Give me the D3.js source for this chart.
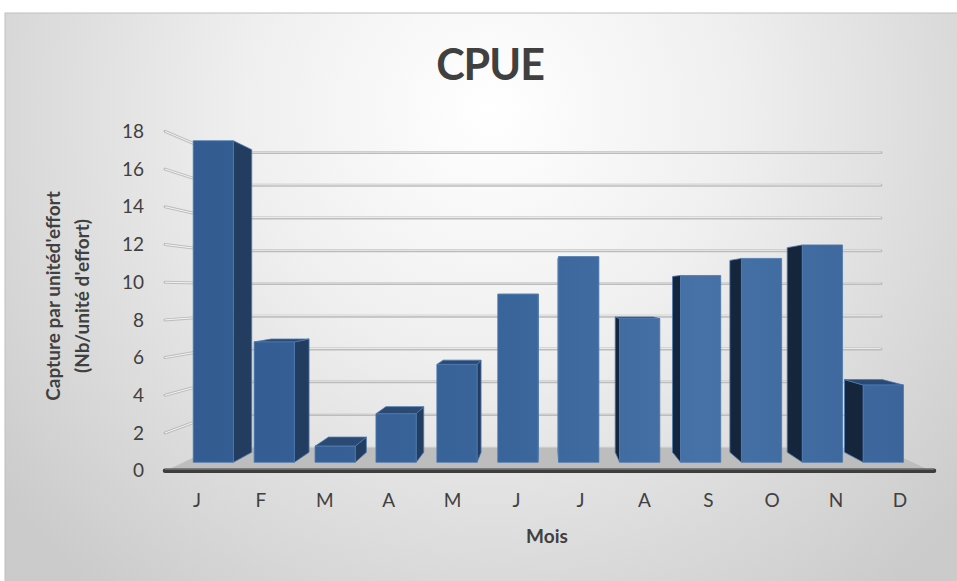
<!DOCTYPE html>
<html>
<head>
<meta charset="utf-8">
<script src="https://cdn.jsdelivr.net/npm/d3@7"></script>
<style>
  body { margin: 0; background: #fff; }
  text { font-family: Lato, "Open Sans", sans-serif; fill: #404040; }
</style>
</head>
<body>
<svg id="chart" width="957" height="581"></svg>
<script>
// data
var months = ["J", "F", "M", "A", "M", "J", "J", "A", "S", "O", "N", "D"];
var cpue = [17.9, 6.7, 0.9, 2.7, 5.45, 9.35, 11.45, 8.0, 10.4, 11.35, 12.1, 4.3];
var yTicks = [0, 2, 4, 6, 8, 10, 12, 14, 16, 18];

var svg = d3.select("#chart");
var defs = svg.append("defs");

// background gradient of the chart area
var bg = defs.append("radialGradient")
  .attr("id", "bgGrad")
  .attr("gradientUnits", "userSpaceOnUse")
  .attr("cx", 490).attr("cy", 110).attr("r", 620);
bg.append("stop").attr("offset", 0).attr("stop-color", "#ffffff");
bg.append("stop").attr("offset", 0.4).attr("stop-color", "#efefef");
bg.append("stop").attr("offset", 1).attr("stop-color", "#cbcbcb");

// front faces get lighter towards the middle-right
var fg = defs.append("linearGradient")
  .attr("id", "frontGrad")
  .attr("gradientUnits", "userSpaceOnUse")
  .attr("x1", 165).attr("x2", 932).attr("y1", 0).attr("y2", 0);
fg.append("stop").attr("offset", 0).attr("stop-color", "#325b90");
fg.append("stop").attr("offset", 0.45).attr("stop-color", "#3a659b");
fg.append("stop").attr("offset", 0.7).attr("stop-color", "#4672a8");
fg.append("stop").attr("offset", 1).attr("stop-color", "#3a6398");

svg.append("rect")
  .attr("x", 5).attr("y", 13)
  .attr("width", 960).attr("height", 580)
  .attr("fill", "url(#bgGrad)")
  .attr("stroke", "#bfbfbf");

// perspective: front plane scale 1, back wall scale sBack
var vp = { x: 545, y: 292 };
var sBack = 0.868, barFront = 0.953, barBack = 0.897;

function proj(x, y, s) {
  return [vp.x + (x - vp.x) * s, vp.y + (y - vp.y) * s];
}
function poly(pts) {
  return pts.map(function(p) { return p[0].toFixed(2) + "," + p[1].toFixed(2); }).join(" ");
}

var x = d3.scaleBand()
  .domain(d3.range(months.length))
  .range([165, 932])
  .paddingInner(0.34)
  .paddingOuter(0.17);

var y = d3.scaleLinear()
  .domain([0, 18])
  .range([470.7, 131.4]);

var xL = x.range()[0], xR = x.range()[1];

// back wall gridlines
var grid = svg.append("g");
yTicks.forEach(function(v) {
  if (v === 0) return;
  var a = proj(xL, y(v), sBack), b = proj(xR, y(v), sBack);
  grid.append("line")
    .attr("x1", a[0]).attr("y1", a[1]).attr("x2", b[0]).attr("y2", b[1])
    .attr("stroke", "#bcbcbc").attr("stroke-width", 3).attr("stroke-linecap", "round");
  grid.append("line")
    .attr("x1", a[0]).attr("y1", a[1] - 0.5).attr("x2", b[0]).attr("y2", b[1] - 0.5)
    .attr("stroke", "#ececec").attr("stroke-width", 1);

  // left wall lines
  var c = proj(xL, y(v), 1), d = proj(xL, y(v), sBack);
  grid.append("line")
    .attr("x1", c[0]).attr("y1", c[1]).attr("x2", d[0]).attr("y2", d[1])
    .attr("stroke", "#bdbdbd").attr("stroke-width", 3).attr("stroke-linecap", "round");
  grid.append("line")
    .attr("x1", c[0]).attr("y1", c[1]).attr("x2", d[0]).attr("y2", d[1])
    .attr("stroke", "#f4f4f4").attr("stroke-width", 1);
});

// floor
svg.append("polygon")
  .attr("points", poly([proj(xL, y(0), 1), proj(xR, y(0), 1), proj(xR, y(0), sBack), proj(xL, y(0), sBack)]))
  .attr("fill", "#bdbdbd")
  .attr("stroke", "#d6d6d6").attr("stroke-width", 1);
svg.append("line")
  .attr("x1", xL).attr("y1", y(0)).attr("x2", xR + 2).attr("y2", y(0))
  .attr("stroke", "#3d3d3d").attr("stroke-width", 4.5).attr("stroke-linecap", "round");
svg.append("line")
  .attr("x1", xL).attr("y1", y(0) - 1.5).attr("x2", xR + 2).attr("y2", y(0) - 1.5)
  .attr("stroke", "#7a7a7a").attr("stroke-width", 1);

// bars
var bars = svg.append("g");
cpue.forEach(function(v, i) {
  var x0 = x(i), x1 = x(i) + x.bandwidth();
  var y0 = y(0), y1 = y(v);
  var g = bars.append("g")
    .attr("stroke", "#4b78b0").attr("stroke-width", 0.8).attr("stroke-linejoin", "round");

  if (x1 < vp.x) {
    g.append("polygon")
      .attr("points", poly([proj(x1, y1, barFront), proj(x1, y1, barBack), proj(x1, y0, barBack), proj(x1, y0, barFront)]))
      .attr("fill", "#223d5f");
  } else if (x0 > vp.x) {
    g.append("polygon")
      .attr("points", poly([proj(x0, y1, barFront), proj(x0, y1, barBack), proj(x0, y0, barBack), proj(x0, y0, barFront)]))
      .attr("fill", "#15253c");
  }
  // top face only shows below eye level
  if (y1 > vp.y) {
    g.append("polygon")
      .attr("points", poly([proj(x0, y1, barFront), proj(x1, y1, barFront), proj(x1, y1, barBack), proj(x0, y1, barBack)]))
      .attr("fill", "#2a4a74");
  }
  g.append("polygon")
    .attr("points", poly([proj(x0, y1, barFront), proj(x1, y1, barFront), proj(x1, y0, barFront), proj(x0, y0, barFront)]))
    .attr("fill", "url(#frontGrad)");
});

// y axis labels
svg.append("g").selectAll("text")
  .data(yTicks)
  .enter().append("text")
  .attr("x", 144)
  .attr("y", function(d) { return y(d); })
  .attr("dy", "0.35em")
  .attr("text-anchor", "end")
  .style("font-size", "19px")
  .text(function(d) { return d; });

// x axis labels
svg.append("g").selectAll("text")
  .data(months)
  .enter().append("text")
  .attr("x", function(d, i) { return x(i) + x.bandwidth() / 2; })
  .attr("y", 500)
  .attr("dy", "0.35em")
  .attr("text-anchor", "middle")
  .style("font-size", "19px")
  .text(function(d) { return d; });

// titles
svg.append("text")
  .attr("x", 490).attr("y", 80)
  .attr("text-anchor", "middle")
  .style("font-size", "43px").style("font-weight", "bold")
  .style("letter-spacing", "-1px")
  .text("CPUE");

svg.append("text")
  .attr("x", 547).attr("y", 543)
  .attr("text-anchor", "middle")
  .style("font-size", "19px").style("font-weight", "bold")
  .text("Mois");

var yt = svg.append("text")
  .attr("transform", "translate(60,296) rotate(-90)")
  .attr("text-anchor", "middle")
  .style("font-size", "19px").style("font-weight", "bold");
yt.append("tspan").attr("x", 0).attr("y", 0).text("Capture par unitéd'effort");
yt.append("tspan").attr("x", 0).attr("y", 29).text("(Nb/unité d'effort)");
</script>
</body>
</html>
